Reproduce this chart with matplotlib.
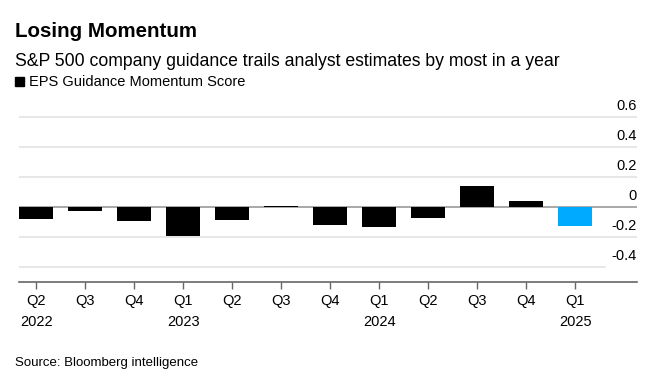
import matplotlib.pyplot as plt
import matplotlib.transforms as mtransforms

plt.rcParams['font.family'] = ['Liberation Sans', 'DejaVu Sans']

# data
quarters = ['Q2', 'Q3', 'Q4', 'Q1', 'Q2', 'Q3', 'Q4', 'Q1', 'Q2', 'Q3', 'Q4', 'Q1']
years = ['2022', '', '', '2023', '', '', '', '2024', '', '', '', '2025']
scores = [-0.082, -0.027, -0.093, -0.193, -0.087, 0.004, -0.122, -0.131, -0.071, 0.138, 0.038, -0.124]
y_ticks = [0.6, 0.4, 0.2, 0, -0.2, -0.4]
y_tick_labels = ['0.6', '0.4', '0.2', '0', '-0.2', '-0.4']

fig = plt.figure(figsize=(6.61, 3.87), dpi=100)
ax = fig.add_axes([19 / 661, 1 - 282 / 387, (637 - 19) / 661, 180 / 387])

x = list(range(len(scores)))
colors = ['#000000'] * (len(scores) - 1) + ['#00AAFF']

# gridlines
for v in y_ticks:
    if v == 0:
        continue
    xmax = 0.948 if v == -0.4 else 1.0
    ax.axhline(v, xmin=0, xmax=xmax, color='#e3e3e3', lw=1.2, zorder=0)
ax.axhline(0, color='#999999', lw=1.2, zorder=1)

ax.bar(x, scores, width=0.7, color=colors, zorder=2)

ax.set_xlim(-0.353, 12.26)
ax.set_ylim(-0.5, 0.7)

# y labels sit above the gridlines, right aligned
trans = mtransforms.blended_transform_factory(ax.transAxes, ax.transData)
off = mtransforms.offset_copy(trans, fig=fig, x=0, y=4, units='dots')
for v, lab in zip(y_ticks, y_tick_labels):
    ax.text(1.0, v, lab, transform=off, ha='right', va='bottom', fontsize=10.5, color='#000000')

for s in ['top', 'right', 'left']:
    ax.spines[s].set_visible(False)
ax.spines['bottom'].set_color('#666666')
ax.spines['bottom'].set_linewidth(1.2)
ax.set_yticks([])
ax.set_xticks(x)
ax.set_xticklabels([q + '\n' + y for q, y in zip(quarters, years)], fontsize=10.5, linespacing=1.6)
ax.tick_params(axis='x', length=5, width=1, color='#666666', pad=4)
for t in ax.get_xticklabels():
    t.set_verticalalignment('top')

fig.text(15 / 661, 1 - 37 / 387, 'Losing Momentum', fontsize=14.8, fontweight='bold', va='baseline')
fig.text(15 / 661, 1 - 66 / 387, 'S&P 500 company guidance trails analyst estimates by most in a year',
         fontsize=12.7, va='baseline')
fig.patches.append(plt.Rectangle((15 / 661, 1 - 86 / 387), 9 / 661, 9 / 387, transform=fig.transFigure,
                                 color='#000000'))
fig.text(29 / 661, 1 - 86 / 387, 'EPS Guidance Momentum Score', fontsize=10.5, va='baseline')
fig.text(15 / 661, 1 - 366 / 387, 'Source: Bloomberg intelligence', fontsize=9.5, va='baseline')

fig.savefig('out.png', dpi=100)
